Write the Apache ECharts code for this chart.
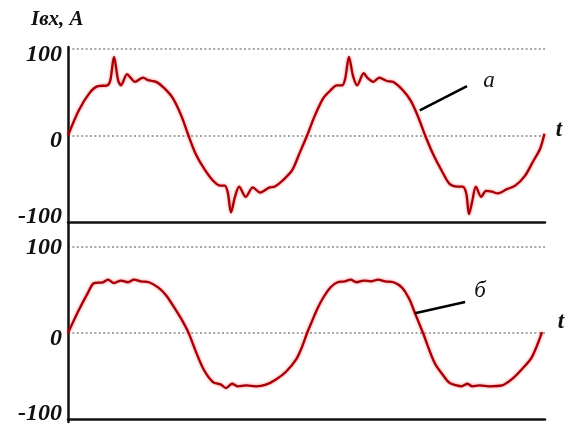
<!DOCTYPE html>
<html>
<head>
<meta charset="utf-8">
<script src="https://cdn.jsdelivr.net/npm/echarts@6/dist/echarts.min.js"></script>
<style>
html, body { margin: 0; padding: 0; background: #fff; }
#chart { width: 576px; height: 426px; }
</style>
</head>
<body>
<div id="chart"></div>
<script>
// Input current, curve "а" (with switching spikes), time in ms
const timeA = [0, 0.9, 1.8, 2.5, 3.3, 3.55, 3.86, 4.2, 4.45, 4.95, 5.3, 5.6, 6.3, 6.7, 7.4, 8.05, 8.8, 9.5, 10.05, 10.7,
  11.4, 12.15, 12.8, 13.15, 13.4, 13.67, 14.0, 14.35, 14.9, 15.5, 16.1, 16.9, 17.35, 18.0, 18.8, 19.4, 20.05, 20.7,
  21.4, 22.0, 22.55, 23.0, 23.25, 23.56, 23.9, 24.25, 24.8, 25.15, 25.6, 26.1, 26.75, 27.25, 28.1, 28.75, 29.35,
  29.95, 30.6, 31.35, 32.0, 32.7, 33.1, 33.4, 33.63, 33.9, 34.2, 34.65, 35.05, 35.55, 36.05, 36.8, 37.5, 38.3,
  39.0, 39.6, 39.95];
const currentA = [0, 29, 49, 57, 58, 64, 91, 64, 58, 71, 66, 62, 67, 64, 62, 55, 43, 23, 2, -21,
  -38, -52, -58, -58, -66, -89, -71, -59, -71, -60, -66, -60, -59, -52, -40, -21, 0, 23,
  43, 52, 58, 58, 66, 91, 69, 58, 72, 66, 62, 67, 63, 62, 52, 40, 22,
  0, -21, -41, -56, -59, -59, -67, -91, -76, -59, -71, -64, -65, -67, -62, -58, -47,
  -30, -15, 2];

// Input current, curve "б" (filtered), time in ms
const timeB = [0, 0.92, 1.68, 2.18, 2.93, 3.35, 3.86, 4.44, 5.03, 5.53, 6.12, 6.79, 7.55, 8.22, 8.89, 9.64, 10.15,
  10.73, 11.4, 12.16, 12.83, 13.25, 13.75, 14.26, 14.93, 15.77, 16.6, 17.44, 18.28, 19.12, 19.6, 20.05, 20.5, 20.9,
  21.4, 22.0, 22.6, 23.2, 23.7, 24.2, 24.8, 25.4, 26.0, 26.6, 27.3, 28.0, 28.6, 29.1, 29.77, 30.75, 31.5, 32.0,
  32.6, 33.0, 33.5, 33.9, 34.5, 35.3, 36.4, 37.2, 38.0, 38.9, 39.75];
const currentB = [0, 27, 47, 58, 59, 62, 58, 61, 59, 62, 60, 59, 53, 44, 30, 13, -1,
  -22, -43, -57, -60, -64, -59, -62, -61, -62, -60, -54, -45, -31, -17, 0, 15, 28,
  41, 53, 59, 60, 62, 59, 61, 60, 62, 60, 59, 53, 40, 23, 0, -35, -50, -58,
  -61, -62, -59, -62, -61, -62, -61, -54, -43, -28, 1];

const yTicks = [-100, 0, 100];
const yMin = -100, yMax = 100, tMin = 0, tMax = 40;

// Leader lines and letters naming each curve
const leaderA = [[29.5, 29], [33.46, 57]];
const letterA = [35.3, 63];
const leaderB = [[29.1, 23], [33.3, 36]];
const letterB = [34.55, 48.5];

const pairs = (xs, ys) => xs.map((x, i) => [x, ys[i]]);

const serif = 'Liberation Serif';
const labelFont = { fontFamily: serif, fontStyle: 'italic', fontWeight: 'bold', fontSize: 24, color: '#111' };

function yAxisFor(gridIndex, shifts) {
  return {
    type: 'value', gridIndex, min: yMin, max: yMax, interval: 100,
    axisLine: { show: false }, axisTick: { show: false },
    axisLabel: {
      margin: 6,
      formatter: v => '{s' + shifts[yTicks.indexOf(v)] + '|' + v + '}',
      rich: {
        sUp6: Object.assign({ padding: [12, 0, 0, 0] }, labelFont),
        sUp5: Object.assign({ padding: [10, 0, 0, 0] }, labelFont),
        sUp1: Object.assign({ padding: [2, 0, 0, 0] }, labelFont),
        sDn5: Object.assign({ padding: [0, 0, 10, 0] }, labelFont)
      }
    },
    splitLine: {
      show: true,
      showMinLine: false,
      lineStyle: { color: '#a6a6a6', width: 2, type: [2, 2.4] }
    }
  };
}

function xAxisFor(gridIndex) {
  return {
    type: 'value', gridIndex, min: tMin, max: tMax,
    axisLine: { show: true, onZero: false, lineStyle: { color: '#111', width: 2.5 } },
    axisTick: { show: false }, axisLabel: { show: false }, splitLine: { show: false }
  };
}

const curveStyle = {
  color: '#a50008', width: 2.3,
  shadowColor: 'rgba(235,0,0,0.55)', shadowBlur: 3
};

function curve(idx, data, tOffset, leader, letter, letterText) {
  return {
    type: 'line', xAxisIndex: idx, yAxisIndex: idx,
    data, smooth: 0.3, showSymbol: false, silent: true,
    lineStyle: curveStyle,
    markLine: {
      silent: true, symbol: ['none', 'none'],
      label: { show: false },
      lineStyle: { color: '#000', width: 2.6, type: 'solid' },
      data: [[{ coord: leader[0] }, { coord: leader[1] }]]
    },
    markPoint: {
      silent: true, symbol: 'circle', symbolSize: 0,
      label: { show: true, position: 'inside', fontFamily: serif, fontStyle: 'italic', fontSize: 23, color: '#111' },
      data: [
        { coord: letter, label: { formatter: letterText } },
        { coord: [tMax, 0], label: { formatter: 't', offset: tOffset, fontWeight: 'bold' } }
      ]
    }
  };
}

const chart = echarts.init(document.getElementById('chart'), null, { renderer: 'canvas' });
chart.setOption({
  animation: false,
  backgroundColor: '#fff',
  title: {
    text: 'Iвх, А', left: 26, top: 4,
    textStyle: { fontFamily: serif, fontStyle: 'italic', fontWeight: 'bold', fontSize: 21, color: '#111' }
  },
  grid: [
    { left: 68, right: 31, top: 49, height: 173 },
    { left: 68, right: 31, top: 247, height: 173 },
    { left: 68, right: 31, top: 47, height: 375 }
  ],
  xAxis: [xAxisFor(0), xAxisFor(1),
    { type: 'value', gridIndex: 2, min: tMin, max: tMax, show: false }],
  yAxis: [
    yAxisFor(0, ['Dn5', 'Up5', 'Up6']),
    yAxisFor(1, ['Dn5', 'Up6', 'Up1']),
    {
      type: 'value', gridIndex: 2, min: 0, max: 1,
      axisLine: { show: true, lineStyle: { color: '#111', width: 2.5 } },
      axisTick: { show: false }, axisLabel: { show: false }, splitLine: { show: false }
    }
  ],
  series: [
    curve(0, pairs(timeA, currentA), [14, -5], leaderA, letterA, 'а'),
    curve(1, pairs(timeB, currentB), [16, -11], leaderB, letterB, 'б')
  ]
});
</script>
</body>
</html>
